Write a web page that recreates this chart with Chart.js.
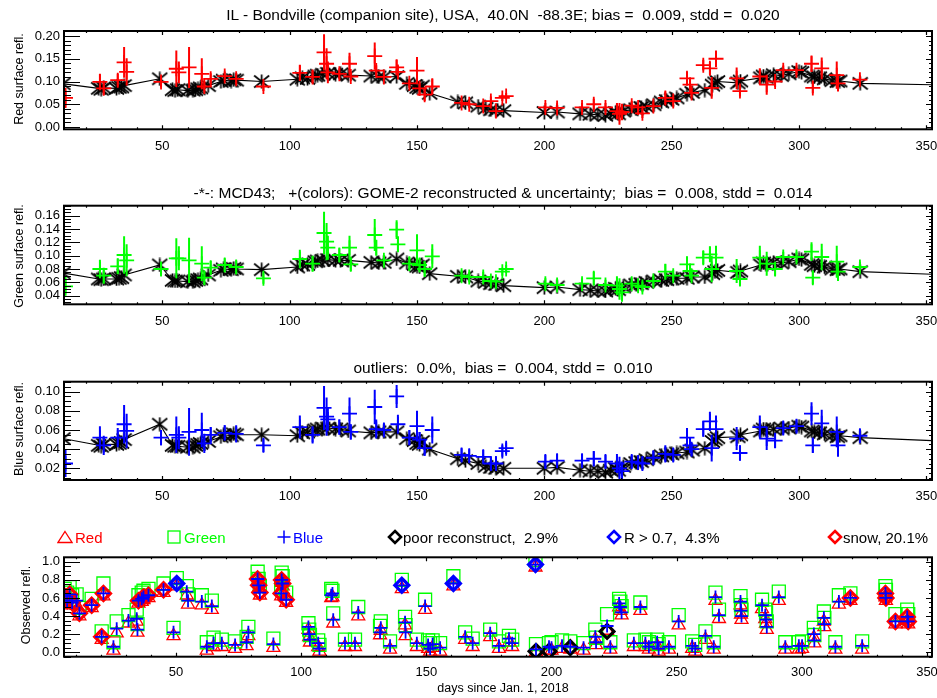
<!DOCTYPE html>
<html>
<head>
<meta charset="utf-8">
<script src="https://cdn.jsdelivr.net/npm/chart.js@4.4.1/dist/chart.umd.min.js"></script>
<style>
  body { margin: 0; background: #fff; }
  #wrap { position: relative; width: 937px; height: 698px; overflow: hidden; background: #fff;
          font-family: "Liberation Sans", Arial, Helvetica, sans-serif; color: #000; }
  canvas { position: absolute; left: 0; }
  .ttl { position: absolute; white-space: pre; font-size: 15.5px; line-height: 1; transform: translate(-50%, -50%); }
  .ytl { position: absolute; white-space: pre; font-size: 12.5px; line-height: 1; transform: translate(-50%, -50%) rotate(-90deg); }
  .lg { position: absolute; white-space: pre; font-size: 15px; line-height: 1; transform: translateY(-50%); }
  .sym { position: absolute; transform: translate(-50%, -50%); }
</style>
</head>
<body>
<div id="wrap">
  <canvas id="pRed" width="937" height="160" style="top:0px"></canvas>
  <canvas id="pGreen" width="937" height="160" style="top:175px"></canvas>
  <canvas id="pBlue" width="937" height="160" style="top:351px"></canvas>
  <canvas id="pObs" width="937" height="160" style="top:527px"></canvas>

  <div class="ttl" style="left:503px;top:15px">IL - Bondville (companion site), USA,  40.0N  -88.3E; bias =  0.009, stdd =  0.020</div>
  <div class="ttl" style="left:503px;top:193px">-*-: MCD43;   +(colors): GOME-2 reconstructed &amp; uncertainty;  bias =  0.008, stdd =  0.014</div>
  <div class="ttl" style="left:503px;top:368px">outliers:  0.0%,  bias =  0.004, stdd =  0.010</div>

  <div class="ytl" style="left:19px;top:79px">Red surface refl.</div>
  <div class="ytl" style="left:19px;top:256px">Green surface refl.</div>
  <div class="ytl" style="left:19px;top:429px">Blue surface refl.</div>
  <div class="ytl" style="left:26px;top:605px">Observed refl.</div>

  <svg class="sym" style="left:65px;top:537px" width="16" height="14"><polygon points="8,1.5 15,12.5 1,12.5" fill="none" stroke="#ff0000" stroke-width="1.3"/></svg>
  <div class="lg" style="left:75px;top:537px;color:#ff0000">Red</div>
  <svg class="sym" style="left:174px;top:537px" width="14" height="14"><rect x="1" y="1" width="12" height="12" fill="none" stroke="#00ff00" stroke-width="1.3"/></svg>
  <div class="lg" style="left:184px;top:537px;color:#00ff00">Green</div>
  <svg class="sym" style="left:284px;top:537px" width="14" height="14"><path d="M7 0.5V13.5M0.5 7H13.5" stroke="#0000ff" stroke-width="1.5"/></svg>
  <div class="lg" style="left:293px;top:537px;color:#0000ff">Blue</div>
  <svg class="sym" style="left:395px;top:537px" width="16" height="16"><polygon points="8,2 14,8 8,14 2,8" fill="none" stroke="#000" stroke-width="2.6"/></svg>
  <div class="lg" style="left:403px;top:537px">poor reconstruct,  2.9%</div>
  <svg class="sym" style="left:614px;top:537px" width="16" height="16"><polygon points="8,2 14,8 8,14 2,8" fill="none" stroke="#0000ff" stroke-width="2.6"/></svg>
  <div class="lg" style="left:624px;top:537px">R &gt; 0.7,  4.3%</div>
  <svg class="sym" style="left:835px;top:537px" width="16" height="16"><polygon points="8,2 14,8 8,14 2,8" fill="none" stroke="#ff0000" stroke-width="2.6"/></svg>
  <div class="lg" style="left:843px;top:537px">snow, 20.1%</div>

  <div class="ttl" style="left:503px;top:688px;font-size:12.5px">days since Jan. 1, 2018</div>
</div>

<script>
// ---- MCD43 (black asterisks, connected) ----
const mcdDays = [11, 25, 26, 27, 32, 33, 34, 35, 49, 54, 55, 56, 60, 62, 63, 64, 65, 68, 73, 74, 77, 78, 79, 89,
  103, 105, 107, 110, 111, 113, 115, 118, 120, 123, 132, 135, 137, 142, 146, 149, 150, 151, 152, 155, 166, 169,
  174, 177, 179, 181, 184, 200, 205, 214, 218, 221, 224, 226, 228, 229, 231, 234, 236, 238, 240, 243, 246, 248,
  250, 252, 256, 258, 263, 266, 267, 268, 276, 277, 285, 286, 287, 290, 293, 296, 300, 301, 305, 306, 308, 310,
  313, 315, 316, 324, 360];
const mcdRed = [0.095, 0.085, 0.083, 0.086, 0.085, 0.087, 0.088, 0.091, 0.106, 0.082, 0.080, 0.082, 0.080, 0.081,
  0.082, 0.084, 0.086, 0.091, 0.100, 0.103, 0.101, 0.104, 0.103, 0.100, 0.105, 0.108, 0.107, 0.112, 0.114, 0.116,
  0.118, 0.116, 0.117, 0.114, 0.112, 0.110, 0.110, 0.111, 0.096, 0.091, 0.087, 0.085, 0.090, 0.074, 0.055, 0.053,
  0.046, 0.041, 0.038, 0.037, 0.036, 0.032, 0.033, 0.029, 0.028, 0.027, 0.026, 0.030, 0.032, 0.029, 0.035, 0.038,
  0.040, 0.043, 0.045, 0.049, 0.055, 0.058, 0.061, 0.064, 0.072, 0.076, 0.081, 0.092, 0.097, 0.100, 0.097, 0.101,
  0.108, 0.112, 0.109, 0.115, 0.113, 0.117, 0.122, 0.120, 0.112, 0.110, 0.108, 0.106, 0.102, 0.100, 0.101, 0.096,
  0.092];
const mcdGreen = [0.074, 0.065, 0.064, 0.065, 0.065, 0.066, 0.067, 0.071, 0.086, 0.063, 0.062, 0.062, 0.061, 0.061,
  0.063, 0.064, 0.065, 0.071, 0.078, 0.080, 0.079, 0.081, 0.080, 0.079, 0.083, 0.086, 0.087, 0.091, 0.092, 0.093,
  0.094, 0.093, 0.093, 0.093, 0.090, 0.089, 0.090, 0.095, 0.089, 0.087, 0.084, 0.083, 0.086, 0.073, 0.069, 0.068,
  0.062, 0.060, 0.058, 0.057, 0.055, 0.052, 0.053, 0.049, 0.048, 0.047, 0.047, 0.049, 0.051, 0.049, 0.053, 0.056,
  0.057, 0.058, 0.060, 0.062, 0.063, 0.064, 0.065, 0.066, 0.066, 0.068, 0.068, 0.073, 0.076, 0.078, 0.075, 0.077,
  0.086, 0.089, 0.087, 0.090, 0.089, 0.091, 0.095, 0.094, 0.087, 0.085, 0.084, 0.083, 0.080, 0.079, 0.080, 0.076,
  0.071];
const mcdBlue = [0.051, 0.044, 0.043, 0.045, 0.045, 0.046, 0.047, 0.050, 0.066, 0.044, 0.043, 0.043, 0.042, 0.042,
  0.044, 0.045, 0.046, 0.048, 0.053, 0.055, 0.054, 0.056, 0.055, 0.055, 0.054, 0.057, 0.058, 0.060, 0.061, 0.062,
  0.062, 0.061, 0.061, 0.059, 0.057, 0.058, 0.058, 0.058, 0.051, 0.049, 0.046, 0.045, 0.048, 0.040, 0.030, 0.028,
  0.025, 0.022, 0.021, 0.020, 0.020, 0.020, 0.021, 0.018, 0.017, 0.017, 0.016, 0.018, 0.020, 0.018, 0.022, 0.025,
  0.026, 0.027, 0.029, 0.031, 0.033, 0.034, 0.035, 0.036, 0.037, 0.039, 0.041, 0.048, 0.050, 0.052, 0.053, 0.055,
  0.059, 0.061, 0.060, 0.061, 0.062, 0.062, 0.064, 0.063, 0.059, 0.058, 0.057, 0.056, 0.054, 0.053, 0.054, 0.052,
  0.048];

// ---- GOME-2 reconstructed surface reflectance and uncertainty ----
const gomeDays = [12, 25.5, 27, 32.5, 35, 36, 49.5, 55.5, 56.5, 60.5, 65.5, 66.5, 69, 74.5, 79, 89.7, 104, 109,
  113.5, 114.5, 115, 119.5, 123.5, 124, 133.4, 134, 137, 142, 142.5, 147, 150, 151, 153, 156, 167.5, 170.5, 176,
  179, 181, 183.5, 185, 200.4, 205, 214.8, 219.4, 224, 228.5, 229.5, 230.5, 234.3, 236.8, 238.5, 242.8, 247.5,
  250.6, 256, 257.2, 257.8, 262.4, 265, 265.7, 267.4, 275.5, 276.8, 284.6, 287.3, 290.6, 293.8, 299, 304.9,
  305.4, 308.9, 314.8, 315.3, 323.9];
const gomeRed = [0.064, 0.099, 0.085, 0.103, 0.142, 0.121, 0.099, 0.128, 0.120, 0.131, 0.117, 0.089, 0.106, 0.112,
  0.106, 0.089, 0.119, 0.110, 0.164, 0.139, 0.120, 0.117, 0.139, 0.111, 0.156, 0.124, 0.110, 0.131, 0.121, 0.096,
  0.124, 0.085, 0.071, 0.089, 0.053, 0.050, 0.046, 0.057, 0.035, 0.064, 0.068, 0.043, 0.042, 0.043, 0.050, 0.043,
  0.035, 0.029, 0.033, 0.047, 0.043, 0.030, 0.046, 0.064, 0.057, 0.107, 0.093, 0.075, 0.136, 0.129, 0.086, 0.150,
  0.107, 0.079, 0.111, 0.093, 0.100, 0.125, 0.125, 0.139, 0.086, 0.129, 0.114, 0.096, 0.104];
const gomeRedUnc = [0.022, 0.018, 0.014, 0.014, 0.034, 0.030, 0.012, 0.040, 0.024, 0.045, 0.034, 0.012, 0.012,
  0.010, 0.012, 0.010, 0.018, 0.014, 0.040, 0.034, 0.024, 0.012, 0.024, 0.010, 0.030, 0.012, 0.008, 0.018, 0.014,
  0.010, 0.030, 0.012, 0.014, 0.018, 0.008, 0.008, 0.008, 0.010, 0.008, 0.007, 0.007, 0.010, 0.010, 0.010, 0.012,
  0.010, 0.018, 0.024, 0.018, 0.010, 0.010, 0.010, 0.010, 0.014, 0.010, 0.014, 0.012, 0.010, 0.012, 0.014, 0.024,
  0.018, 0.024, 0.012, 0.018, 0.022, 0.012, 0.010, 0.010, 0.018, 0.012, 0.024, 0.030, 0.018, 0.010];
const gomeGreen = [0.054, 0.080, 0.070, 0.084, 0.101, 0.093, 0.080, 0.096, 0.096, 0.093, 0.088, 0.067, 0.082,
  0.086, 0.083, 0.066, 0.095, 0.088, 0.134, 0.121, 0.112, 0.101, 0.112, 0.087, 0.131, 0.112, 0.093, 0.139, 0.117,
  0.088, 0.108, 0.086, 0.080, 0.099, 0.070, 0.068, 0.068, 0.062, 0.061, 0.076, 0.080, 0.058, 0.056, 0.058, 0.066,
  0.056, 0.055, 0.050, 0.045, 0.058, 0.055, 0.053, 0.062, 0.076, 0.070, 0.087, 0.077, 0.070, 0.097, 0.102, 0.080,
  0.097, 0.077, 0.065, 0.097, 0.088, 0.080, 0.098, 0.098, 0.106, 0.067, 0.098, 0.091, 0.076, 0.083];
const gomeGreenUnc = [0.014, 0.014, 0.012, 0.012, 0.028, 0.024, 0.010, 0.030, 0.018, 0.034, 0.026, 0.010, 0.010,
  0.010, 0.010, 0.008, 0.014, 0.012, 0.032, 0.028, 0.018, 0.010, 0.018, 0.010, 0.024, 0.012, 0.008, 0.014, 0.012,
  0.010, 0.024, 0.010, 0.012, 0.018, 0.008, 0.008, 0.008, 0.008, 0.008, 0.006, 0.006, 0.008, 0.008, 0.008, 0.010,
  0.008, 0.014, 0.016, 0.014, 0.008, 0.008, 0.008, 0.008, 0.012, 0.008, 0.012, 0.010, 0.008, 0.010, 0.012, 0.020,
  0.018, 0.018, 0.010, 0.018, 0.018, 0.010, 0.008, 0.008, 0.014, 0.010, 0.020, 0.024, 0.014, 0.008];
const gomeBlue = [0.025, 0.052, 0.044, 0.052, 0.066, 0.059, 0.052, 0.055, 0.052, 0.058, 0.060, 0.046, 0.055, 0.057,
  0.056, 0.044, 0.063, 0.055, 0.083, 0.074, 0.071, 0.063, 0.077, 0.058, 0.084, 0.061, 0.060, 0.095, 0.066, 0.052,
  0.064, 0.050, 0.041, 0.060, 0.034, 0.033, 0.032, 0.025, 0.025, 0.038, 0.041, 0.027, 0.028, 0.028, 0.030, 0.027,
  0.025, 0.020, 0.017, 0.027, 0.026, 0.025, 0.031, 0.035, 0.034, 0.052, 0.044, 0.040, 0.061, 0.069, 0.041, 0.061,
  0.051, 0.036, 0.063, 0.051, 0.049, 0.062, 0.064, 0.077, 0.044, 0.067, 0.058, 0.044, 0.054];
const gomeBlueUnc = [0.014, 0.012, 0.010, 0.010, 0.020, 0.018, 0.008, 0.019, 0.012, 0.025, 0.018, 0.010, 0.008,
  0.008, 0.009, 0.007, 0.012, 0.009, 0.023, 0.020, 0.012, 0.008, 0.017, 0.008, 0.018, 0.010, 0.007, 0.012, 0.010,
  0.008, 0.016, 0.008, 0.008, 0.014, 0.007, 0.007, 0.007, 0.007, 0.007, 0.006, 0.006, 0.007, 0.007, 0.007, 0.008,
  0.007, 0.010, 0.012, 0.010, 0.007, 0.007, 0.007, 0.007, 0.009, 0.007, 0.010, 0.008, 0.007, 0.008, 0.010, 0.014,
  0.014, 0.012, 0.008, 0.012, 0.012, 0.008, 0.007, 0.007, 0.012, 0.008, 0.014, 0.016, 0.012, 0.007];

// ---- Observed (top-of-atmosphere) reflectance per overpass ----
const obsDays = [5.5, 6.5, 7.5, 8.5, 10.3, 11.4, 16.3, 20.3, 21, 25, 26.3, 31, 34.3, 34.6, 35, 36.3, 37, 39, 45, 49,
  50.3, 54.3, 54.8, 60.3, 62.3, 64.3, 65, 68.3, 73.6, 78.2, 78.9, 82.6, 83, 83.5, 88.9, 92, 92.2, 92.6, 94, 102.9,
  103.2, 103.5, 106.8, 107.3, 112, 112.5, 112.8, 117.5, 121.5, 122.8, 131.5, 131.8, 135.5, 140.2, 141.5, 141.7,
  146.2, 149.5, 150.7, 151.5, 152.5, 155.5, 160.8, 165.5, 168.5, 175.5, 179, 183, 184.3, 193.6, 193.8, 199, 200,
  204.2, 207.5, 212.8, 217.5, 217.8, 222.2, 223.5, 227, 227.5, 228, 232.9, 235.5, 237.5, 238.9, 242.2, 242.8,
  246.9, 250.8, 256.2, 257.4, 261.5, 264.8, 265.5, 266.9, 275.5, 275.7, 275.9, 284.1, 285.4, 285.7, 286, 290.8,
  293.4, 298.8, 300.1, 304.8, 305, 308.8, 309, 313.4, 314.8, 319.4, 324.1, 333.4, 333.6, 337.4, 342.1, 342.5];
const obsBlue = [0.62, 0.57, 0.64, 0.55, 0.57, 0.43, 0.52, 0.17, 0.65, 0.06, 0.26, 0.35, 0.37, 0.25, 0.57, 0.59,
  0.61, 0.63, 0.69, 0.22, 0.76, 0.67, 0.57, 0.56, 0.06, 0.51, 0.10, 0.10, 0.08, 0.11, 0.22, 0.81, 0.74, 0.66, 0.09,
  0.65, 0.80, 0.76, 0.58, 0.28, 0.20, 0.14, 0.10, 0.04, 0.63, 0.65, 0.36, 0.10, 0.10, 0.44, 0.22, 0.27, 0.07, 0.74,
  0.33, 0.22, 0.10, 0.51, 0.08, 0.04, 0.09, 0.05, 0.76, 0.17, 0.10, 0.21, 0.07, 0.15, 0.10, 0.97, 0.03, 0.06, 0.05,
  0.07, 0.06, 0.05, 0.17, 0.11, 0.29, 0.06, 0.54, 0.50, 0.44, 0.10, 0.50, 0.10, 0.06, 0.11, 0.04, 0.06, 0.34, 0.07,
  0.04, 0.18, 0.06, 0.61, 0.41, 0.56, 0.46, 0.40, 0.52, 0.41, 0.36, 0.28, 0.61, 0.06, 0.07, 0.07, 0.20, 0.13, 0.38,
  0.31, 0.06, 0.56, 0.60, 0.07, 0.65, 0.60, 0.34, 0.39, 0.34];
const obsGreen = [0.70, 0.66, 0.72, 0.63, 0.64, 0.49, 0.59, 0.23, 0.76, 0.11, 0.34, 0.41, 0.47, 0.31, 0.63, 0.66,
  0.68, 0.70, 0.76, 0.27, 0.82, 0.73, 0.64, 0.63, 0.11, 0.57, 0.16, 0.14, 0.12, 0.17, 0.28, 0.89, 0.81, 0.73, 0.15,
  0.71, 0.88, 0.84, 0.66, 0.32, 0.25, 0.19, 0.13, 0.08, 0.70, 0.68, 0.43, 0.14, 0.14, 0.50, 0.29, 0.34, 0.12, 0.80,
  0.39, 0.30, 0.14, 0.58, 0.13, 0.10, 0.13, 0.10, 0.84, 0.22, 0.15, 0.25, 0.12, 0.18, 0.14, 1.02, 0.09, 0.10, 0.11,
  0.13, 0.12, 0.10, 0.25, 0.16, 0.42, 0.11, 0.59, 0.56, 0.51, 0.13, 0.55, 0.14, 0.11, 0.14, 0.09, 0.11, 0.41, 0.12,
  0.08, 0.23, 0.11, 0.66, 0.47, 0.62, 0.52, 0.47, 0.58, 0.47, 0.44, 0.34, 0.67, 0.11, 0.11, 0.12, 0.27, 0.19, 0.45,
  0.38, 0.11, 0.63, 0.65, 0.12, 0.73, 0.69, 0.42, 0.47, 0.42];
const obsRed = [0.58, 0.54, 0.60, 0.52, 0.52, 0.40, 0.49, 0.14, 0.62, 0.02, 0.21, 0.32, 0.34, 0.22, 0.54, 0.56,
  0.58, 0.60, 0.66, 0.18, 0.73, 0.63, 0.53, 0.52, 0.02, 0.47, 0.06, 0.06, 0.04, 0.07, 0.18, 0.78, 0.71, 0.63, 0.05,
  0.62, 0.77, 0.73, 0.55, 0.25, 0.17, 0.11, 0.06, 0.01, 0.60, 0.61, 0.32, 0.06, 0.06, 0.40, 0.19, 0.24, 0.03, 0.70,
  0.30, 0.18, 0.06, 0.47, 0.04, 0.01, 0.05, 0.01, 0.73, 0.14, 0.06, 0.17, 0.04, 0.11, 0.06, 0.94, 0.00, 0.02, 0.02,
  0.04, 0.03, 0.02, 0.14, 0.08, 0.24, 0.03, 0.50, 0.46, 0.41, 0.06, 0.46, 0.06, 0.03, 0.07, 0.01, 0.03, 0.30, 0.04,
  0.01, 0.14, 0.03, 0.57, 0.37, 0.52, 0.42, 0.36, 0.48, 0.37, 0.32, 0.25, 0.57, 0.03, 0.03, 0.04, 0.16, 0.10, 0.34,
  0.28, 0.03, 0.53, 0.57, 0.03, 0.61, 0.57, 0.31, 0.35, 0.31];

// ---- flagged overpasses ----
const snowDays = [5.5, 6.5, 7.5, 8.5, 11.4, 16.3, 20.3, 21, 35, 36.3, 37, 39, 45, 82.6, 83, 83.5, 92, 92.2, 92.6, 94,
  319.4, 333.4, 333.6, 337.4, 342.1, 342.5];
const snowRefl = [0.62, 0.57, 0.64, 0.55, 0.43, 0.52, 0.17, 0.65, 0.57, 0.59, 0.61, 0.63, 0.69, 0.81, 0.74, 0.66,
  0.65, 0.80, 0.76, 0.58, 0.60, 0.65, 0.60, 0.34, 0.39, 0.34];
const brightDays = [50.3, 140.2, 160.8, 193.6];
const brightRefl = [0.76, 0.74, 0.76, 0.97];
const poorDays = [193.8, 199, 207.5, 222.2];
const poorRefl = [0.01, 0.01, 0.05, 0.23];

// ---- axis ticks ----
const dayTicks = [50, 100, 150, 200, 250, 300, 350];
const redTicks = [0.00, 0.05, 0.10, 0.15, 0.20];
const greenTicks = [0.04, 0.06, 0.08, 0.10, 0.12, 0.14, 0.16];
const blueTicks = [0.02, 0.04, 0.06, 0.08, 0.10];
const obsTicks = [0.0, 0.2, 0.4, 0.6, 0.8, 1.0];

const FONT = '"Liberation Sans", Arial, Helvetica, sans-serif';
const RED = '#ff0000', GREEN = '#00ff00', BLUE = '#0000ff';

const pts = (xs, ys) => xs.map((x, i) => ({ x: x, y: ys[i] }));

// IDL-style asterisk marker
function asterisk() {
  const c = document.createElement('canvas');
  c.width = 17; c.height = 15;
  const g = c.getContext('2d');
  g.strokeStyle = '#000'; g.lineWidth = 1.7;
  g.beginPath();
  g.moveTo(8.5, 0.5); g.lineTo(8.5, 14.5);
  g.moveTo(1, 1.5); g.lineTo(16, 13.5);
  g.moveTo(16, 1.5); g.lineTo(1, 13.5);
  g.stroke();
  return c;
}
const STAR = asterisk();

// vertical uncertainty bars, drawn just before their own markers
const errorBars = {
  id: 'errorBars',
  beforeDatasetDraw(chart, args) {
    const ds = chart.data.datasets[args.index];
    if (!ds.errors) return;
    const { ctx, chartArea: a, scales: { x, y } } = chart;
    ctx.save();
    ctx.beginPath(); ctx.rect(a.left, a.top, a.right - a.left, a.bottom - a.top); ctx.clip();
    ctx.strokeStyle = ds.errorColor; ctx.lineWidth = 2;
    ctx.beginPath();
    ds.data.forEach((p, i) => {
      const px = x.getPixelForValue(p.x);
      ctx.moveTo(px, y.getPixelForValue(p.y - ds.errors[i]));
      ctx.lineTo(px, y.getPixelForValue(p.y + ds.errors[i]));
    });
    ctx.stroke();
    ctx.restore();
  }
};

// boxed axes with inward major/minor ticks on all four sides
const frame = {
  id: 'frame',
  afterDraw(chart, args, o) {
    const { ctx, chartArea: a, scales: { x, y } } = chart;
    ctx.save();
    ctx.strokeStyle = '#000';
    ctx.lineWidth = 1.2;
    ctx.beginPath();
    const k0 = Math.ceil(y.min / o.yMinor - 1e-6), k1 = Math.floor(y.max / o.yMinor + 1e-6);
    for (let k = k0; k <= k1; k++) {
      const v = k * o.yMinor;
      const r = v / o.yMajor;
      const major = Math.abs(r - Math.round(r)) < 1e-6;
      const py = Math.round(y.getPixelForValue(v)) + 0.5;
      const lenL = major ? o.yMajLenL : o.yMinLenL;
      const lenR = major ? o.yMajLenR : o.yMinLenR;
      ctx.moveTo(a.left, py); ctx.lineTo(a.left + lenL, py);
      ctx.moveTo(a.right, py); ctx.lineTo(a.right - lenR, py);
    }
    const j0 = Math.ceil(x.min / o.xMinor), j1 = Math.floor(x.max / o.xMinor);
    for (let j = j0; j <= j1; j++) {
      const v = j * o.xMinor;
      const major = v % o.xMajor === 0;
      const px = Math.round(x.getPixelForValue(v)) + 0.5;
      const len = major ? o.xMajLen : o.xMinLen;
      ctx.moveTo(px, a.bottom); ctx.lineTo(px, a.bottom - len);
      ctx.moveTo(px, a.top); ctx.lineTo(px, a.top + len);
    }
    ctx.stroke();
    ctx.lineWidth = 2;
    ctx.strokeRect(a.left, a.top, a.right - a.left, a.bottom - a.top);
    ctx.restore();
  }
};

// keep the plot box fixed: no extra room reserved for edge tick labels
const noEdgePad = s => { s.paddingLeft = 0; s.paddingRight = 0; s.paddingTop = 0; s.paddingBottom = 0; };

function panel(id, c) {
  return new Chart(document.getElementById(id), {
    type: 'scatter',
    data: { datasets: c.datasets },
    options: {
      responsive: false,
      animation: false,
      devicePixelRatio: 1,
      layout: { autoPadding: false, padding: { top: c.padTop, right: 5, left: 0, bottom: 0 } },
      plugins: {
        legend: { display: false },
        tooltip: { enabled: false },
        frame: Object.assign({ xMajor: 50, xMinor: 10, xMajLen: 4, xMinLen: 2,
                               yMajLenL: 16, yMinLenL: 7, yMajLenR: 6, yMinLenR: 3 }, c.frame)
      },
      scales: {
        x: {
          type: 'linear', min: c.xMin, max: c.xMax,
          grid: { display: false, drawTicks: false }, border: { display: false },
          ticks: { color: '#000', font: { family: FONT, size: 13 }, padding: c.xPad, maxRotation: 0, autoSkip: false },
          afterBuildTicks: s => { s.ticks = dayTicks.map(v => ({ value: v })); },
          afterFit: s => { s.height = c.xHeight; noEdgePad(s); }
        },
        y: {
          type: 'linear', min: c.yMin, max: c.yMax,
          grid: { display: false, drawTicks: false }, border: { display: false },
          ticks: { color: '#000', font: { family: FONT, size: 13 }, padding: 4, autoSkip: false,
                   callback: v => Number(v).toFixed(c.digits) },
          afterBuildTicks: s => { s.ticks = c.yTicks.map(v => ({ value: v })); },
          afterFit: s => { s.width = 64; noEdgePad(s); }
        }
      }
    },
    plugins: [frame, errorBars]
  });
}

function surfaceSets(gVals, gUnc, color, mVals) {
  return [
    { data: pts(gomeDays, gVals), errors: gUnc, errorColor: color,
      pointStyle: 'cross', pointRadius: 7.5, borderColor: color, borderWidth: 1.8, backgroundColor: color },
    { data: pts(mcdDays, mVals), showLine: true, borderColor: '#000', borderWidth: 1.1,
      pointStyle: STAR, backgroundColor: '#000' }
  ];
}

panel('pRed', {
  padTop: 31, xHeight: 30.7, xPad: 9, xMin: 11.4, xMax: 352.2,
  yMin: -0.005, yMax: 0.211, yTicks: redTicks, digits: 2,
  frame: { yMajor: 0.05, yMinor: 0.01 },
  datasets: surfaceSets(gomeRed, gomeRedUnc, RED, mcdRed)
});
panel('pGreen', {
  padTop: 30.7, xHeight: 30.7, xPad: 9, xMin: 11.4, xMax: 352.2,
  yMin: 0.027, yMax: 0.175, yTicks: greenTicks, digits: 2,
  frame: { yMajor: 0.02, yMinor: 0.005 },
  datasets: surfaceSets(gomeGreen, gomeGreenUnc, GREEN, mcdGreen)
});
panel('pBlue', {
  padTop: 30.7, xHeight: 31, xPad: 8.5, xMin: 11.4, xMax: 352.2,
  yMin: 0.0078, yMax: 0.1104, yTicks: blueTicks, digits: 2,
  frame: { yMajor: 0.02, yMinor: 0.005 },
  datasets: surfaceSets(gomeBlue, gomeBlueUnc, BLUE, mcdBlue)
});
panel('pObs', {
  padTop: 30.3, xHeight: 30.3, xPad: 7.5, xMin: 5.25, xMax: 352,
  yMin: -0.05, yMax: 1.05, yTicks: obsTicks, digits: 1,
  frame: { yMajor: 0.2, yMinor: 0.05 },
  datasets: [
    { data: pts(obsDays, obsBlue), pointStyle: 'cross', pointRadius: 6.5, borderColor: BLUE, borderWidth: 1.8 },
    { data: pts(snowDays, snowRefl), pointStyle: 'rectRot', pointRadius: 7, borderColor: RED, borderWidth: 3.2,
      backgroundColor: 'rgba(0,0,0,0)' },
    { data: pts(brightDays, brightRefl), pointStyle: 'rectRot', pointRadius: 7, borderColor: BLUE, borderWidth: 3.2,
      backgroundColor: 'rgba(0,0,0,0)' },
    { data: pts(poorDays, poorRefl), pointStyle: 'rectRot', pointRadius: 7, borderColor: '#000', borderWidth: 3,
      backgroundColor: 'rgba(0,0,0,0)' },
    { data: pts(obsDays, obsGreen), pointStyle: 'rect', pointRadius: 9.2, borderColor: GREEN, borderWidth: 1.3,
      backgroundColor: 'rgba(0,0,0,0)' },
    { data: pts(obsDays, obsRed), pointStyle: 'triangle', pointRadius: 7.5, borderColor: RED, borderWidth: 1.3,
      backgroundColor: 'rgba(0,0,0,0)' }
  ]
});
</script>
</body>
</html>
